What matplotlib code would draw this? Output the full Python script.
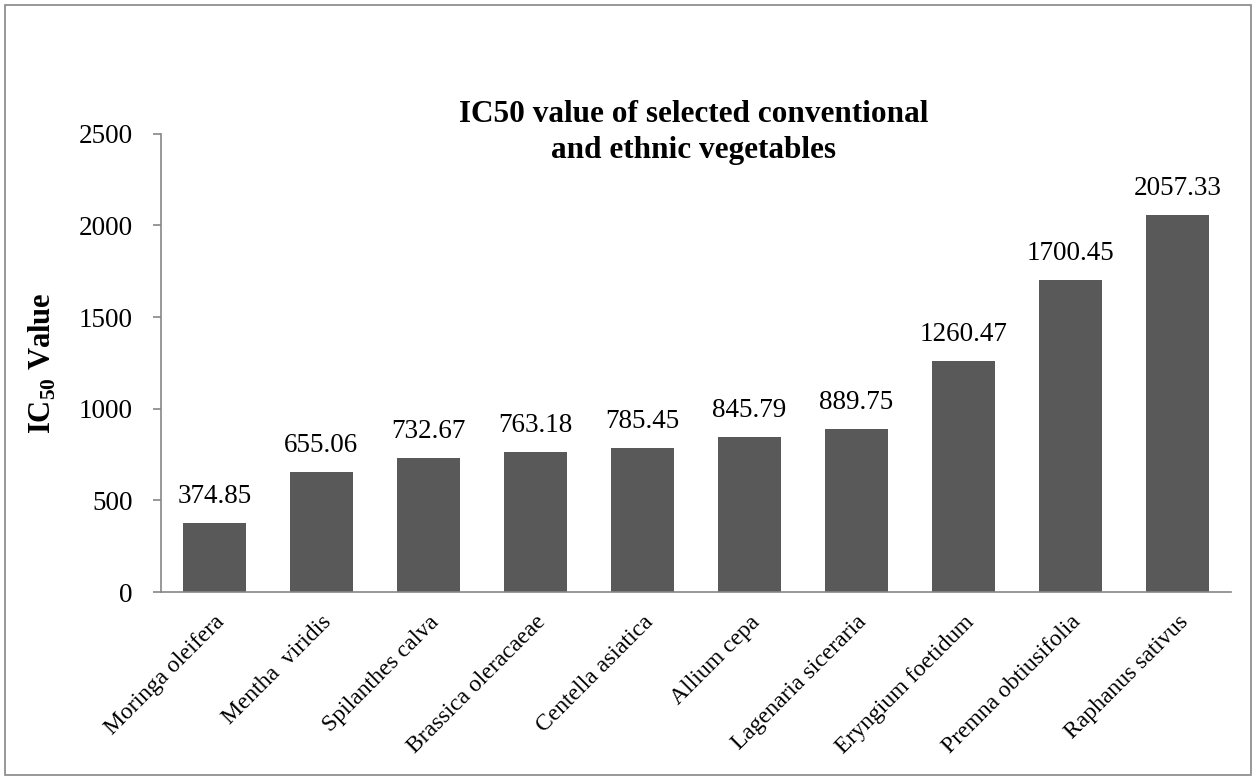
import matplotlib.pyplot as plt
import numpy as np
from matplotlib.patches import Rectangle

plants = ["Moringa oleifera", "Mentha  viridis", "Spilanthes calva", "Brassica oleracaeae",
          "Centella asiatica", "Allium cepa", "Lagenaria siceraria", "Eryngium foetidum",
          "Premna obtiusifolia", "Raphanus sativus"]
ic50 = [374.85, 655.06, 732.67, 763.18, 785.45, 845.79, 889.75, 1260.47, 1700.45, 2057.33]
yticks = [0, 500, 1000, 1500, 2000, 2500]

plt.rcParams['font.family'] = ['Liberation Serif', 'DejaVu Serif']
plt.rcParams['mathtext.fontset'] = 'custom'
plt.rcParams['mathtext.rm'] = 'Liberation Serif'
plt.rcParams['mathtext.bf'] = 'Liberation Serif:bold'

fig = plt.figure(figsize=(12.56, 7.78), dpi=100)
ax = fig.add_axes([0.128, 0.239, 0.852, 0.589])

x = np.arange(len(plants))
bars = ax.bar(x, ic50, width=0.59, color='#595959')
for xi, v in zip(x, ic50):
    ax.annotate(f"{v:.2f}", (xi, v), xytext=(0, 10), textcoords='offset points',
                ha='center', va='bottom', fontsize=19.5)

ax.set_xlim(-0.5, len(plants) - 0.5)
ax.set_ylim(0, 2500)
ax.set_yticks(yticks)
ax.tick_params(axis='y', labelsize=19.5, length=6, color='#868686', width=1.2, pad=14)
ax.set_xticks(x)
ax.set_xticklabels(plants, rotation=45, ha='right', rotation_mode='anchor', fontsize=17)
ax.tick_params(axis='x', length=0, pad=14)
for s in ['top', 'right']:
    ax.spines[s].set_visible(False)
for s in ['left', 'bottom']:
    ax.spines[s].set_color('#868686')
    ax.spines[s].set_linewidth(1.2)

ax.set_ylabel(r"IC$_{\mathbf{50}}$ Value", fontsize=22, fontweight='bold', labelpad=15)
fig.text(0.552, 0.830, "IC50 value of selected conventional\nand ethnic vegetables",
         ha='center', va='center', fontsize=22.5, fontweight='bold', linespacing=1.3)

fig.patches.append(Rectangle((0.004, 0.004), 0.992, 0.99, transform=fig.transFigure,
                             fill=False, edgecolor='#868686', linewidth=1.2))

fig.savefig("out.png", dpi=100)
